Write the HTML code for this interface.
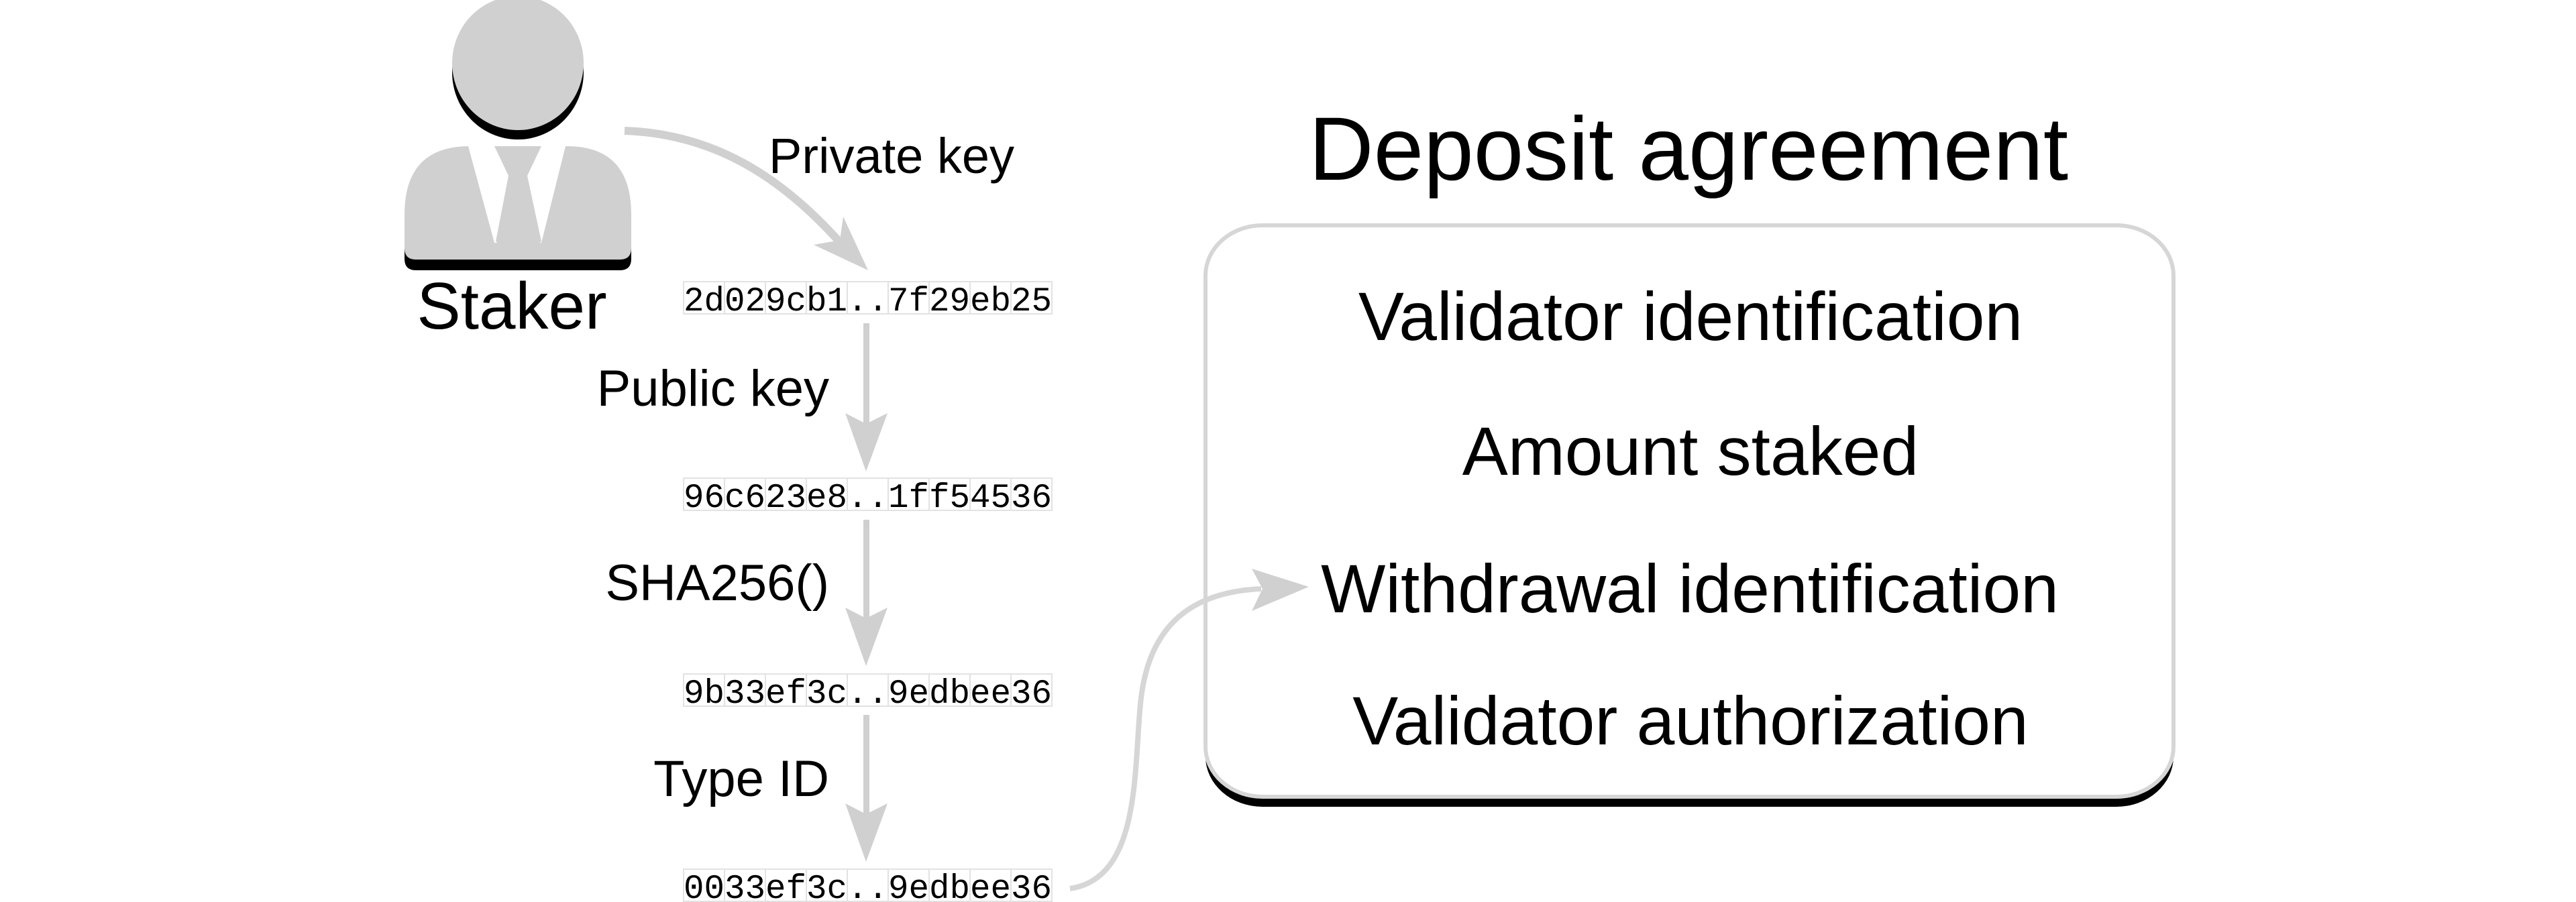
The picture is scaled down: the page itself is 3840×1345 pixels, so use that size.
<!DOCTYPE html>
<html><head><meta charset="utf-8"><style>
html,body{margin:0;padding:0;background:#fff;}
svg{display:block;}
.s{font-family:"Liberation Sans",sans-serif;fill:#000;}
.m{font-family:"Liberation Mono",monospace;font-size:51px;fill:#000;}
</style></head><body>
<svg width="3840" height="1345" viewBox="0 0 3840 1345" xmlns="http://www.w3.org/2000/svg">
<rect width="3840" height="1345" fill="#fff"/>
<!-- person -->
<ellipse cx="772" cy="108" rx="98" ry="100" fill="#000"/>
<ellipse cx="772" cy="94" rx="98" ry="100" fill="#d0d0d0"/>
<path d="M603,403 L603,336 Q603,234 700,234 L845,234 Q941,234 941,336 L941,386 Q941,403 924,403 L620,403 Q603,403 603,386 Z" fill="#000"/>
<path d="M603,387 L603,320 Q603,218 700,218 L845,218 Q941,218 941,320 L941,370 Q941,387 924,387 L620,387 Q603,387 603,370 Z" fill="#d0d0d0"/>
<polygon points="698,218 843,218 807,362 737,362" fill="#fff"/>
<polygon points="737,218 807,218 786,262 807,360 772,385 739,360 758,262" fill="#d0d0d0"/>
<text class="s" x="763" y="490" font-size="98" text-anchor="middle">Staker</text>
<!-- private key arrow -->
<path d="M931,195 C1080,200 1180,280 1258,368" fill="none" stroke="#d0d0d0" stroke-width="12"/>
<polygon points="1294,403 1213,365 1252,358 1257,323" fill="#d0d0d0"/>
<text class="s" x="1146" y="258" font-size="74">Private key</text>
<!-- hex rows -->
<g id="rows">
<g transform="translate(0,420)">
<g fill="none" stroke="#e2e2e2" stroke-width="2">
<rect x="1019" y="0" width="61" height="48"/><rect x="1080" y="0" width="61" height="48"/><rect x="1141" y="0" width="61" height="48"/><rect x="1202" y="0" width="61" height="48"/><rect x="1263" y="0" width="61" height="48"/><rect x="1324" y="0" width="61" height="48"/><rect x="1385" y="0" width="61" height="48"/><rect x="1446" y="0" width="61" height="48"/><rect x="1507" y="0" width="61" height="48"/>
</g>
<text class="m" x="1019" y="43" textLength="549" lengthAdjust="spacingAndGlyphs">2d029cb1..7f29eb25</text>
</g>
<g transform="translate(0,713)">
<g fill="none" stroke="#e2e2e2" stroke-width="2">
<rect x="1019" y="0" width="61" height="48"/><rect x="1080" y="0" width="61" height="48"/><rect x="1141" y="0" width="61" height="48"/><rect x="1202" y="0" width="61" height="48"/><rect x="1263" y="0" width="61" height="48"/><rect x="1324" y="0" width="61" height="48"/><rect x="1385" y="0" width="61" height="48"/><rect x="1446" y="0" width="61" height="48"/><rect x="1507" y="0" width="61" height="48"/>
</g>
<text class="m" x="1019" y="43" textLength="549" lengthAdjust="spacingAndGlyphs">96c623e8..1ff54536</text>
</g>
<g transform="translate(0,1005)">
<g fill="none" stroke="#e2e2e2" stroke-width="2">
<rect x="1019" y="0" width="61" height="48"/><rect x="1080" y="0" width="61" height="48"/><rect x="1141" y="0" width="61" height="48"/><rect x="1202" y="0" width="61" height="48"/><rect x="1263" y="0" width="61" height="48"/><rect x="1324" y="0" width="61" height="48"/><rect x="1385" y="0" width="61" height="48"/><rect x="1446" y="0" width="61" height="48"/><rect x="1507" y="0" width="61" height="48"/>
</g>
<text class="m" x="1019" y="43" textLength="549" lengthAdjust="spacingAndGlyphs">9b33ef3c..9edbee36</text>
</g>
<g transform="translate(0,1296)">
<g fill="none" stroke="#e2e2e2" stroke-width="2">
<rect x="1019" y="0" width="61" height="48"/><rect x="1080" y="0" width="61" height="48"/><rect x="1141" y="0" width="61" height="48"/><rect x="1202" y="0" width="61" height="48"/><rect x="1263" y="0" width="61" height="48"/><rect x="1324" y="0" width="61" height="48"/><rect x="1385" y="0" width="61" height="48"/><rect x="1446" y="0" width="61" height="48"/><rect x="1507" y="0" width="61" height="48"/>
</g>
<text class="m" x="1019" y="43" textLength="549" lengthAdjust="spacingAndGlyphs">0033ef3c..9edbee36</text>
</g>
</g>
<!-- vertical arrows -->
<g fill="#d0d0d0">
<rect x="1287" y="482" width="9" height="150"/><polygon points="1291,703 1260,616 1291,632 1323,616"/>
<rect x="1287" y="775" width="9" height="150"/><polygon points="1291,993 1260,906 1291,922 1323,906"/>
<rect x="1287" y="1066" width="9" height="150"/><polygon points="1291,1285 1260,1198 1291,1214 1323,1198"/>
</g>
<text class="s" x="1236" y="605" font-size="76" text-anchor="end">Public key</text>
<text class="s" x="1236" y="895" font-size="76" text-anchor="end">SHA256()</text>
<text class="s" x="1236" y="1187" font-size="76" text-anchor="end">Type ID</text>
<!-- box -->
<rect x="1797" y="351" width="1443" height="852" rx="85" ry="75" fill="#000"/>
<rect x="1797" y="336" width="1443" height="852" rx="85" ry="75" fill="#fff" stroke="#d6d6d6" stroke-width="6"/>
<!-- curve to withdrawal -->
<path d="M1595,1325 C1700,1310 1690,1150 1700,1050 C1712,920 1790,882 1880,878" fill="none" stroke="#d6d6d6" stroke-width="8"/>
<polygon points="1951,875 1866,848 1882,878 1866,911" fill="#d0d0d0"/>
<text class="s" x="2517" y="268" font-size="134" text-anchor="middle">Deposit agreement</text>
<text class="s" x="2520" y="507" font-size="102" text-anchor="middle">Validator identification</text>
<text class="s" x="2520" y="708" font-size="102" text-anchor="middle">Amount staked</text>
<text class="s" x="2519" y="913" font-size="102" text-anchor="middle">Withdrawal identification</text>
<text class="s" x="2520" y="1110" font-size="102" text-anchor="middle">Validator authorization</text>
</svg>
</body></html>
